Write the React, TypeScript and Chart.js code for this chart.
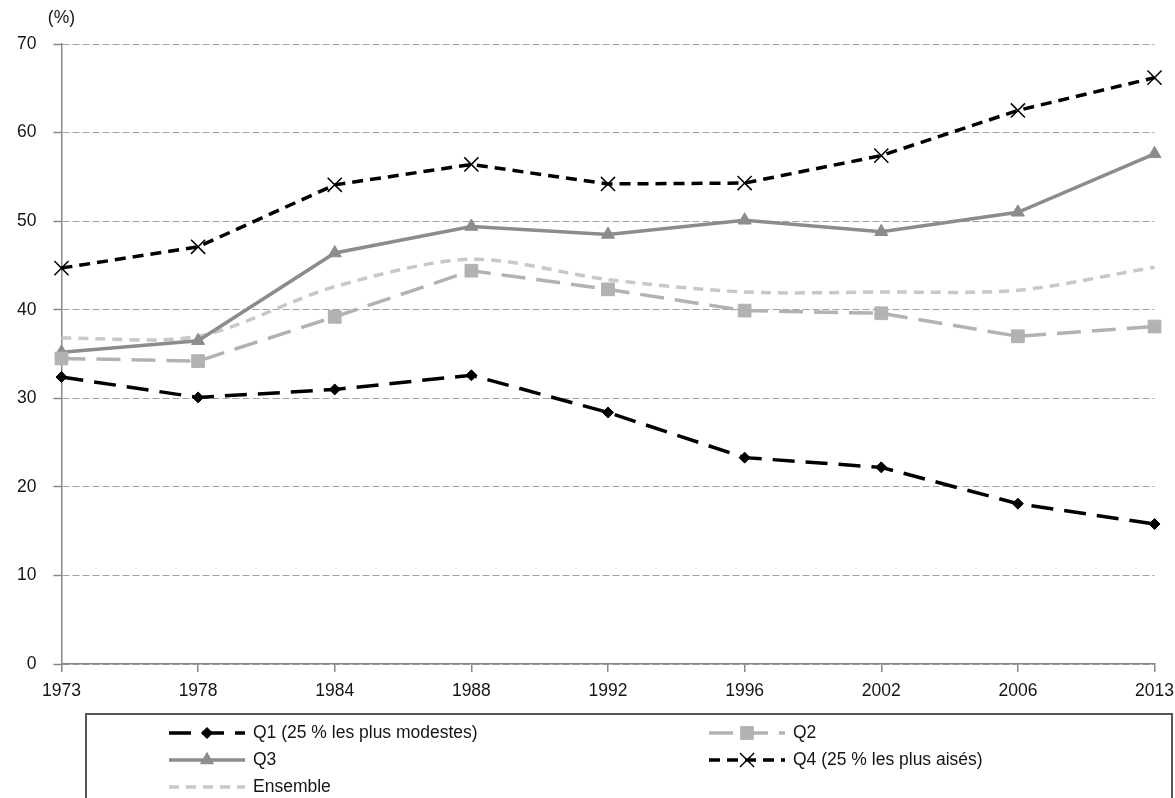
import { useEffect, useRef } from 'react';
import { Chart, registerables } from 'chart.js';
import { drawPoint } from 'chart.js/helpers';

Chart.register(...registerables);

const years = ['1973', '1978', '1984', '1988', '1992', '1996', '2002', '2006', '2013'];
const q1Values = [32.4, 30.1, 31.0, 32.6, 28.4, 23.3, 22.2, 18.1, 15.8];
const q2Values = [34.5, 34.2, 39.2, 44.4, 42.3, 39.9, 39.6, 37.0, 38.1];
const q3Values = [35.2, 36.5, 46.4, 49.4, 48.5, 50.1, 48.8, 51.0, 57.6];
const q4Values = [44.7, 47.1, 54.1, 56.4, 54.2, 54.3, 57.4, 62.5, 66.2];
const ensembleValues = [36.8, 37.0, 42.6, 45.7, 43.4, 42.0, 42.0, 42.2, 44.8];
const seriesLabels = ['Q1 (25 % les plus modestes)', 'Q2', 'Q3', 'Q4 (25 % les plus aisés)', 'Ensemble'];
const yMin = 0;
const yMax = 70;
const yStep = 10;
const unitLabel = '(%)';

const FONT = '"Liberation Sans", Arial, sans-serif';
const FSIZE = 17.5;
const TEXT = '#151515';
const CANVAS_W = 1183;

const legendPlugin = {
  id: 'boxLegend',
  afterDraw(chart: any) {
    const ctx = chart.ctx as CanvasRenderingContext2D;
    ctx.save();
    // unit label
    ctx.font = `${FSIZE}px ${FONT}`;
    ctx.fillStyle = TEXT;
    ctx.textAlign = 'center';
    ctx.textBaseline = 'middle';
    ctx.fillText(unitLabel, chart.chartArea.left, 18);

    // legend box
    ctx.strokeStyle = '#555';
    ctx.lineWidth = 2;
    ctx.strokeRect(86, 714, 1086, 100);

    const slots = [
      [169, 733],
      [709, 733],
      [169, 760],
      [709, 760],
      [169, 787],
    ];
    chart.data.datasets.forEach((ds: any, i: number) => {
      const [x, y] = slots[i];
      const len = 76;
      ctx.save();
      ctx.strokeStyle = ds.borderColor;
      ctx.lineWidth = ds.borderWidth;
      ctx.setLineDash(ds.borderDash || []);
      ctx.beginPath();
      ctx.moveTo(x, y);
      ctx.lineTo(x + len, y);
      ctx.stroke();
      ctx.restore();
      if (ds.pointRadius > 0) {
        ctx.save();
        ctx.fillStyle = ds.pointBackgroundColor;
        ctx.strokeStyle = ds.pointBorderColor;
        ctx.lineWidth = ds.pointBorderWidth;
        drawPoint(ctx, { pointStyle: ds.pointStyle, radius: ds.pointRadius, borderWidth: ds.pointBorderWidth, rotation: 0 } as any, x + len / 2, y);
        ctx.restore();
      }
      ctx.fillStyle = TEXT;
      ctx.font = `${FSIZE}px ${FONT}`;
      ctx.textAlign = 'left';
      ctx.textBaseline = 'middle';
      ctx.fillText(ds.label, x + len + 8, y);
    });
    ctx.restore();
  },
};

export default function App() {
  const ref = useRef<HTMLCanvasElement>(null);
  useEffect(() => {
    document.body.style.margin = '0';
    document.body.style.overflow = 'hidden';
    const canvas = ref.current!;
    const chart = new Chart(canvas, {
      type: 'line',
      data: {
        labels: years,
        datasets: [
          {
            label: seriesLabels[0],
            data: q1Values,
            borderColor: '#000',
            borderWidth: 3.5,
            borderDash: [22, 11],
            pointStyle: 'rectRot',
            pointRadius: 5.5,
            pointBackgroundColor: '#000',
            pointBorderColor: '#000',
            pointBorderWidth: 1,
            tension: 0,
          },
          {
            label: seriesLabels[1],
            data: q2Values,
            borderColor: '#b2b2b2',
            borderWidth: 3.5,
            borderDash: [24, 11],
            pointStyle: 'rect',
            pointRadius: 9,
            pointBackgroundColor: '#b2b2b2',
            pointBorderColor: '#b2b2b2',
            pointBorderWidth: 1,
            tension: 0,
          },
          {
            label: seriesLabels[2],
            data: q3Values,
            borderColor: '#8c8c8c',
            borderWidth: 3.5,
            borderDash: [],
            pointStyle: 'triangle',
            pointRadius: 7.5,
            pointBackgroundColor: '#8c8c8c',
            pointBorderColor: '#8c8c8c',
            pointBorderWidth: 1,
            tension: 0,
          },
          {
            label: seriesLabels[3],
            data: q4Values,
            borderColor: '#000',
            borderWidth: 3.5,
            borderDash: [11, 7],
            pointStyle: 'crossRot',
            pointRadius: 10,
            pointBackgroundColor: '#000',
            pointBorderColor: '#000',
            pointBorderWidth: 1.5,
            tension: 0,
          },
          {
            label: seriesLabels[4],
            data: ensembleValues,
            borderColor: '#c8c8c8',
            borderWidth: 3.5,
            borderDash: [10, 7],
            pointStyle: 'circle',
            pointRadius: 0,
            pointBackgroundColor: '#c8c8c8',
            pointBorderColor: '#c8c8c8',
            pointBorderWidth: 0,
            tension: 0.3,
          },
        ],
      },
      options: {
        responsive: false,
        animation: false,
        layout: { padding: { left: 0, right: 0, top: 44, bottom: 87 } },
        plugins: {
          legend: { display: false },
          tooltip: { enabled: false },
        },
        scales: {
          x: {
            offset: false,
            grid: {
              display: true,
              drawOnChartArea: false,
              drawTicks: true,
              tickLength: 8,
              color: '#888',
              lineWidth: 1.5,
            },
            border: { display: true, color: '#888', width: 1.5 },
            ticks: {
              color: TEXT,
              font: { family: FONT, size: FSIZE },
              padding: 9,
              maxRotation: 0,
              autoSkip: false,
            },
          },
          y: {
            min: yMin,
            max: yMax,
            grid: {
              color: '#a0a0a0',
              lineWidth: 1,
              drawTicks: true,
              tickLength: 8,
              tickColor: '#888',
              tickWidth: 1.5,
            },
            border: { display: true, color: '#888', width: 1.5, dash: [7, 3] },
            ticks: {
              stepSize: yStep,
              color: TEXT,
              font: { family: FONT, size: FSIZE },
              padding: 17,
            },
          },
        },
      },
      plugins: [legendPlugin],
    } as any);
    return () => chart.destroy();
  }, []);
  return (
    <div style={{ position: 'absolute', left: 0, top: 0, width: 1175, height: 798, overflow: 'hidden', background: '#fff' }}>
      <canvas ref={ref} width={CANVAS_W} height={798} style={{ display: 'block' }} />
    </div>
  );
}
